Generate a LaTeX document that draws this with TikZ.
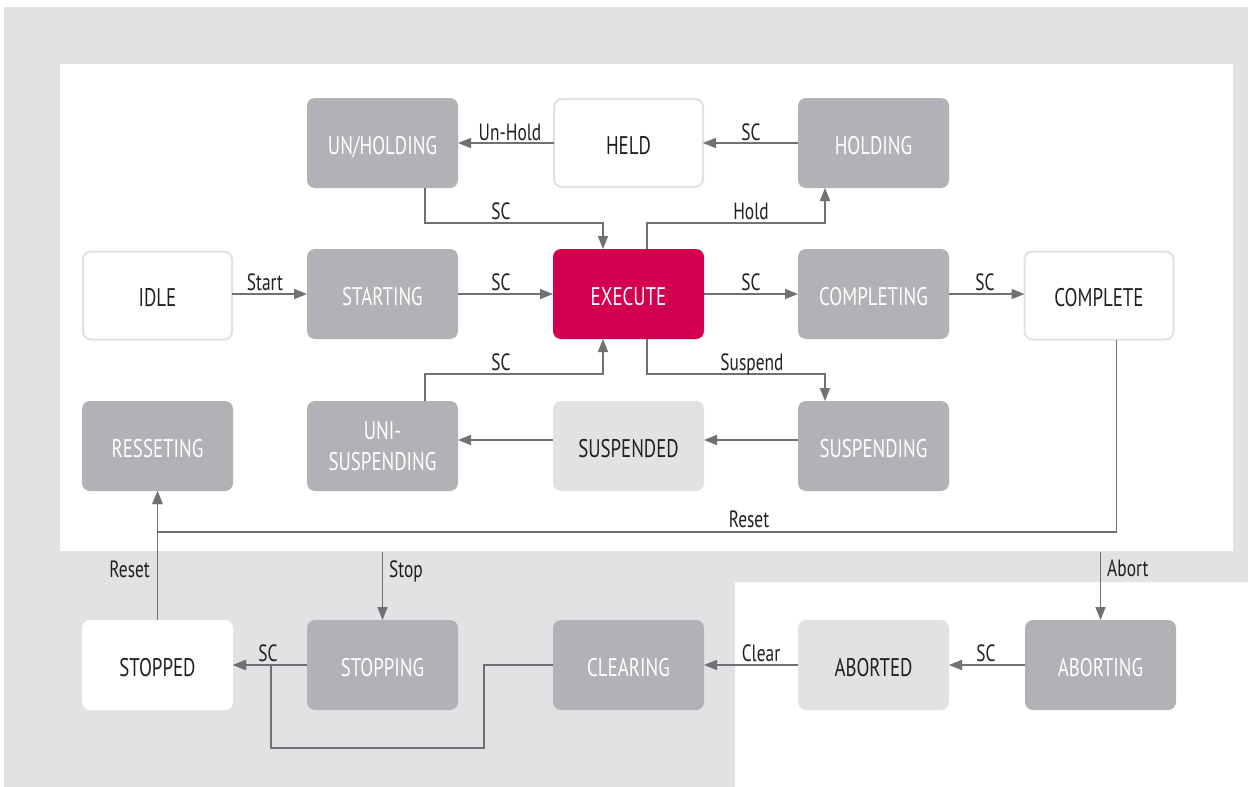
\documentclass[tikz,border=0pt]{standalone}
\usepackage{fontspec}
\setmainfont{PT Sans}[FakeStretch=0.74]
\usetikzlibrary{arrows.meta,calc}
\definecolor{bggray}{HTML}{E1E2E4}
\definecolor{nodegray}{HTML}{B1B2B5}
\definecolor{exered}{HTML}{D2004F}
\definecolor{arrgray}{HTML}{707174}
\definecolor{txt}{HTML}{231F20}
\tikzset{
  state/.style={rounded corners=8pt, minimum width=151pt, minimum height=90pt, inner sep=0pt, outer sep=0pt,
    font=\fontsize{25.5}{31}\selectfont, text=txt, align=center, text height=22pt, text depth=0pt},
  dark/.style={state, fill=nodegray, text=white},
  hot/.style={state, fill=exered, text=white},
  plain/.style={state, fill=white, draw=bggray, line width=2pt, minimum width=149pt, minimum height=88pt},
  pale/.style={state, fill=bggray},
  blank/.style={state, fill=white},
  arr/.style={draw=arrgray, line width=1.6pt, -{Triangle[length=13pt,width=10pt]}},
  lbl/.style={font=\fontsize{23.5}{25}\selectfont, text=txt, inner sep=0pt}
}
\begin{document}
\begin{tikzpicture}[x=1pt,y=-1pt]
\useasboundingbox (0,0) rectangle (1248,787);
% backgrounds
\fill[bggray] (4,7) -- (1248,7) -- (1248,582) -- (735,582) -- (735,787) -- (4,787) -- cycle;
\fill[white] (60,64) rectangle (1233,551);

% row 1
\node[dark]  (unh)  at (382.5,143) {UN/HOLDING};
\node[plain] (held) at (628.5,143) {HELD};
\node[dark]  (hldg) at (873.5,143) {HOLDING};
% row 2
\node[plain] (idle) at (157.5,295.5) {IDLE};
\node[dark]  (strt) at (382.5,294) {STARTING};
\node[hot]   (exe)  at (628.5,294) {EXECUTE};
\node[dark]  (cmpg) at (873.5,294) {COMPLETING};
\node[plain] (cpl)  at (1099,295.5) {COMPLETE};
% row 3
\node[dark]  (resg) at (157.5,446) {RESSETING};
\node[dark, text height=, text depth=] (unis) at (382.5,446) {UNI-\\SUSPENDING};
\node[pale]  (susd) at (628.5,446) {SUSPENDED};
\node[dark]  (susg) at (873.5,446) {SUSPENDING};
% row 4
\node[blank] (stpd) at (157.5,665) {STOPPED};
\node[dark]  (stpg) at (382.5,665) {STOPPING};
\node[dark]  (clrg) at (628.5,665) {CLEARING};
\node[pale]  (abtd) at (873.5,665) {ABORTED};
\node[dark]  (abtg) at (1100.5,665) {ABORTING};

\coordinate (stopsrc) at (382.5,552);
\coordinate (abortsrc) at (1100.5,552);

% connectors
\draw[arr] (held.west) -- (unh.east);
\draw[arr] (hldg.west) -- (held.east);
\draw[arr] ([xshift=42.5pt]unh.south) -- ++(0,35) -| ([xshift=-25.5pt]exe.north);
\draw[arr] ([xshift=18.5pt]exe.north) -- ++(0,-26) -| ([xshift=-48.5pt]hldg.south);
\draw[arr] (idle.east |- strt.east) -- (strt.west);
\draw[arr] (strt.east) -- (exe.west);
\draw[arr] (exe.east) -- (cmpg.west);
\draw[arr] (cmpg.east) -- (cpl.west |- cmpg.east);
\draw[arr] ([xshift=18.5pt]exe.south) -- ++(0,35) -| ([xshift=-48.5pt]susg.north);
\draw[arr] ([xshift=42.5pt]unis.north) -- ++(0,-27) -| ([xshift=-25.5pt]exe.south);
\draw[arr] ([yshift=6pt]susg.west) -- ([yshift=6pt]susd.east);
\draw[arr] ([yshift=6pt]susd.west) -- ([yshift=6pt]unis.east);
\draw[arr] ([xshift=17.5pt]cpl.south) -- ([xshift=17.5pt]cpl.south |- 0,532) -| (resg.south);
\draw[arr] (stpd.north) -- (resg.south);
\draw[arr] (stopsrc) -- (stpg.north);
\draw[arr] (abortsrc) -- (abtg.north);
\draw[arr] (abtg.west) -- (abtd.east);
\draw[arr] (abtd.west) -- (clrg.east);
\draw[arr] (stpg.west) -- (stpd.east);
\draw[arr] (clrg.west) -- ++(-69,0) -- ++(0,83) -| ([xshift=38pt]stpd.east) -- (stpd.east);

% labels
\node[lbl, anchor=base] (l1) at (510,140) {Un-Hold};
\node[lbl, anchor=base] (l2) at (751,140) {SC};
\node[lbl, anchor=base] (l3) at (501,219) {SC};
\node[lbl, anchor=base] (l4) at (751,219) {Hold};
\node[lbl, anchor=base] (l5) at (265,290) {Start};
\node[lbl, anchor=base] (l6) at (501,290) {SC};
\node[lbl, anchor=base] (l7) at (751,290) {SC};
\node[lbl, anchor=base] (l8) at (985,290) {SC};
\node[lbl, anchor=base] (l9) at (752,370) {Suspend};
\node[lbl, anchor=base] (l10) at (501,370) {SC};
\node[lbl, anchor=base] (l11) at (749,527) {Reset};
\node[lbl, anchor=base east] (l12) at (150,577) {Reset};
\node[lbl, anchor=base west] (l13) at (389,577) {Stop};
\node[lbl, anchor=base west] (l14) at (1107,576) {Abort};
\node[lbl, anchor=base] (l15) at (986,661) {SC};
\node[lbl, anchor=base] (l16) at (761,661) {Clear};
\node[lbl, anchor=base] (l17) at (268,661) {SC};
\end{tikzpicture}
\end{document}
